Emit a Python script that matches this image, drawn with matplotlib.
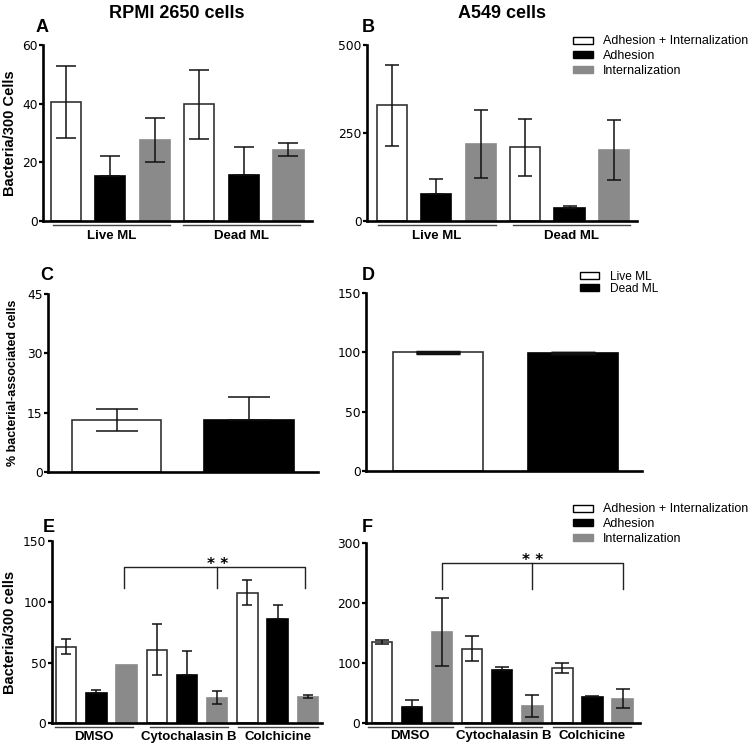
import matplotlib
matplotlib.use("Agg")
import matplotlib.pyplot as plt
import matplotlib.transforms as mtransforms
from matplotlib.patches import Patch
import numpy as np

# ---------------- data ----------------
series_names = ["Adhesion + Internalization", "Adhesion", "Internalization"]
ml_groups = ["Live ML", "Dead ML"]
drug_groups = ["DMSO", "Cytochalasin B", "Colchicine"]
cd_names = ["Live ML", "Dead ML"]

# Panel A: RPMI 2650 cells (Bacteria/300 Cells), per group [Live, Dead]
A_total = [40.5, 39.8]; A_total_err = [12.4, 11.8]
A_adh = [15.3, 15.5];   A_adh_err = [6.7, 9.5]
A_int = [27.5, 24.3];   A_int_err = [7.5, 2.2]

# Panel B: A549 cells
B_total = [328, 209];   B_total_err = [115, 81]
B_adh = [75, 37];       B_adh_err = [44, 5]
B_int = [218, 202];     B_int_err = [96, 85]

# Panel C / D: % bacterial-associated cells [Live, Dead]
C_vals = [13.2, 13.2];  C_err = [2.8, 5.8]
D_vals = [100.0, 99.5]; D_err = [0.5, 0.3]

# Panel E: RPMI 2650, per group [DMSO, Cytochalasin B, Colchicine]
E_total = [63.0, 60.6, 107.5]; E_total_err = [6.0, 21.0, 10.5]
E_adh = [24.7, 39.7, 85.8];    E_adh_err = [2.7, 19.8, 11.3]
E_int = [48.0, 21.1, 21.9];    E_int_err = [0.0, 5.1, 1.2]

# Panel F: A549
F_total = [136.0, 124.4, 91.7]; F_total_err = [3.5, 20.5, 8.0]
F_adh = [27.7, 88.9, 44.4];     F_adh_err = [11.7, 4.4, 1.1]
F_int = [151.7, 28.9, 41.0];    F_int_err = [57.0, 18.7, 15.8]

# significance brackets (bar index positions, bracket height, drop height)
E_bracket = dict(idx=[1.9, 5.0, 7.9], y=129, drop=111)
F_bracket = dict(idx=[2.0, 5.0, 8.0], y=268, drop=224)

# ---------------- style ----------------
W, H = 750, 746
fig = plt.figure(figsize=(W / 100, H / 100), dpi=100)
fig.patch.set_facecolor("white")

BOLD = "Liberation Sans"
TICKF = "DejaVu Sans"
fills = ["white", "black", "#8a8a8a"]
edges = ["#333333", "black", "#8a8a8a"]


def rect(l, r, t, b):
    return [l / W, 1 - b / H, (r - l) / W, (b - t) / H]


def style_axes(ax, yticks, ylim):
    ax.set_ylim(*ylim)
    ax.set_yticks(yticks)
    for s in ["top", "right"]:
        ax.spines[s].set_visible(False)
    ax.spines["left"].set_linewidth(1.9)
    ax.spines["bottom"].set_linewidth(1.9)
    ax.tick_params(axis="y", length=3, width=1.6, pad=0.8, labelsize=8.8)
    for lab in ax.get_yticklabels():
        lab.set_fontfamily(TICKF)
    ax.set_xticks([])
    ax.patch.set_alpha(0)


def grouped(ax, totals, errs, ngroups, capsize, width=0.68):
    for s in range(3):
        pos = np.arange(ngroups) * 3 + s
        fc = fills[s]
        ax.bar(pos, totals[s], width=width, color=fc,
               edgecolor=edges[s], linewidth=1.2, zorder=2)
        e = np.array(errs[s], dtype=float)
        m = e > 0
        if s == 1:
            # lower half hidden inside the black bar
            yerr = np.vstack([np.zeros(m.sum()), e[m]])
        else:
            yerr = e[m]
        ax.errorbar(pos[m], np.array(totals[s])[m], yerr=yerr, fmt="none",
                    ecolor="#111111", elinewidth=1.1, capsize=capsize,
                    capthick=1.1, zorder=3)


def underline(ax, spans, labels, dy=-0.026, ty=-0.085, fs=9.5):
    tr = mtransforms.blended_transform_factory(ax.transData, ax.transAxes)
    for (a, b), lab in zip(spans, labels):
        ax.plot([a, b], [dy, dy], color="#444444", lw=1.0, transform=tr,
                clip_on=False)
        ax.text((a + b) / 2, ty, lab, transform=tr, ha="center", va="center",
                fontsize=fs, fontweight="bold", fontfamily=BOLD)


def bracket(ax, br, fs=11):
    i0, i1, i2 = br["idx"]
    y, d = br["y"], br["drop"]
    ax.plot([i0, i0, i2, i2], [d, y, y, d], color="#222222", lw=1.0, zorder=4,
            clip_on=False)
    ax.plot([i1, i1], [y, d], color="#222222", lw=1.0, zorder=4)
    ax.annotate("* *", xy=(i1, y), xytext=(0, -1.8), textcoords="offset points",
                ha="center", va="baseline", fontsize=fs, fontweight="bold",
                fontfamily=TICKF)


# ---------------- Panel A ----------------
axA = fig.add_axes(rect(43, 312, 45, 220.7))
grouped(axA, [A_total, A_adh, A_int], [A_total_err, A_adh_err, A_int_err], 2,
        capsize=7)
axA.set_xlim(-0.51, 5.53)
style_axes(axA, [0, 20, 40, 60], (0, 60))
underline(axA, [(-0.285, 2.34), (2.64, 5.27)], ml_groups)
axA.set_ylabel("Bacteria/300 Cells", fontsize=10.5, fontweight="bold",
               fontfamily=BOLD, labelpad=4)

# ---------------- Panel B ----------------
axB = fig.add_axes(rect(367, 637, 45, 220.7))
grouped(axB, [B_total, B_adh, B_int], [B_total_err, B_adh_err, B_int_err], 2,
        capsize=5)
axB.set_xlim(-0.56, 5.52)
style_axes(axB, [0, 250, 500], (0, 500))
underline(axB, [(-0.32, 2.34), (2.73, 5.36)], ml_groups)

# ---------------- Panel C ----------------
axC = fig.add_axes(rect(48, 318, 294.3, 471.7))
cpos = np.arange(len(cd_names))
axC.bar(cpos, C_vals, width=0.675, color=["white", "black"],
        edgecolor=["#333333", "black"], linewidth=1.2, zorder=2)
axC.errorbar(cpos[:1], C_vals[:1], yerr=C_err[:1], fmt="none",
             ecolor="#111111", elinewidth=1.1, capsize=15, capthick=1.1,
             zorder=3)
axC.errorbar(cpos[1:], C_vals[1:], yerr=[[0], C_err[1:]], fmt="none",
             ecolor="#111111", elinewidth=1.1, capsize=15, capthick=1.1,
             zorder=3)
axC.set_xlim(-0.517, 1.52)
style_axes(axC, [0, 15, 30, 45], (0, 45))
axC.set_ylabel("% bacterial-associated cells", fontsize=9, fontweight="bold",
               fontfamily=BOLD, labelpad=6)

# ---------------- Panel D ----------------
axD = fig.add_axes(rect(366, 641.7, 293.3, 470.7))
axD.bar(cpos, D_vals, width=0.666, color=["white", "black"],
        edgecolor=["#333333", "black"], linewidth=1.2, zorder=2)
axD.errorbar(cpos, D_vals, yerr=D_err, fmt="none", ecolor="#111111",
             elinewidth=2.0, capsize=16, capthick=2.5, zorder=3)
axD.set_xlim(-0.53, 1.51)
style_axes(axD, [0, 50, 100, 150], (0, 150))
axD.legend(handles=[Patch(facecolor=c, edgecolor="black", linewidth=1.0)
                    for c in ["white", "black"]],
           labels=cd_names, loc="upper left",
           bbox_to_anchor=(580 / W, 1 - 270.5 / H),
           bbox_transform=fig.transFigure,
           frameon=False, prop=dict(family="Liberation Sans", size=8.6),
           handlelength=1.6, handleheight=0.5, handletextpad=0.9,
           labelspacing=0.05, borderpad=0, borderaxespad=0)

# ---------------- Panel E ----------------
axE = fig.add_axes(rect(51.7, 321.7, 541, 723.3))
grouped(axE, [E_total, E_adh, E_int], [E_total_err, E_adh_err, E_int_err], 3,
        capsize=3.8)
axE.set_xlim(-0.48, 8.46)
style_axes(axE, [0, 50, 100, 150], (0, 150))
underline(axE, [(-0.37, 2.21), (2.78, 5.36), (5.69, 8.34)], drug_groups,
          dy=-0.019, ty=-0.073)
axE.set_ylabel("Bacteria/300 cells", fontsize=10.5, fontweight="bold",
               fontfamily=BOLD, labelpad=4)
bracket(axE, E_bracket)

# ---------------- Panel F ----------------
axF = fig.add_axes(rect(365.7, 640, 543.3, 723.3))
grouped(axF, [F_total, F_adh, F_int], [F_total_err, F_adh_err, F_int_err], 3,
        capsize=5)
axF.set_xlim(-0.54, 8.58)
style_axes(axF, [0, 100, 200, 300], (0, 300))
underline(axF, [(-0.47, 2.36), (2.76, 5.31), (5.69, 8.28)], drug_groups,
          dy=-0.019, ty=-0.073)
bracket(axF, F_bracket)

leg_handles = [Patch(facecolor=fills[i], edgecolor="black" if i < 2 else fills[i],
                     linewidth=1.0) for i in range(3)]
for ax, y0 in [(axB, 35.5), (axF, 503.5)]:
    ax.legend(handles=leg_handles, labels=series_names, loc="upper left",
              bbox_to_anchor=(573 / W, 1 - y0 / H),
              bbox_transform=fig.transFigure, frameon=False,
              prop=dict(family="Liberation Sans", size=9),
              handlelength=1.6, handleheight=0.5, handletextpad=0.8,
              labelspacing=0.2, borderpad=0, borderaxespad=0)

# ---------------- titles & panel letters ----------------
fig.text(177 / W, 1 - 14 / H, "RPMI 2650 cells", ha="center", va="center",
         fontsize=13, fontweight="bold", fontfamily=BOLD)
fig.text(502 / W, 1 - 13 / H, "A549 cells", ha="center", va="center",
         fontsize=13, fontweight="bold", fontfamily=BOLD)
for letter, x, y in [("A", 36, 27), ("B", 362, 27), ("C", 40, 275),
                     ("D", 362, 275), ("E", 43, 528), ("F", 362, 528)]:
    fig.text(x / W, 1 - y / H, letter, ha="left", va="center", fontsize=13,
             fontweight="bold", fontfamily=BOLD)

fig.savefig("out.png", dpi=100, facecolor="white")
